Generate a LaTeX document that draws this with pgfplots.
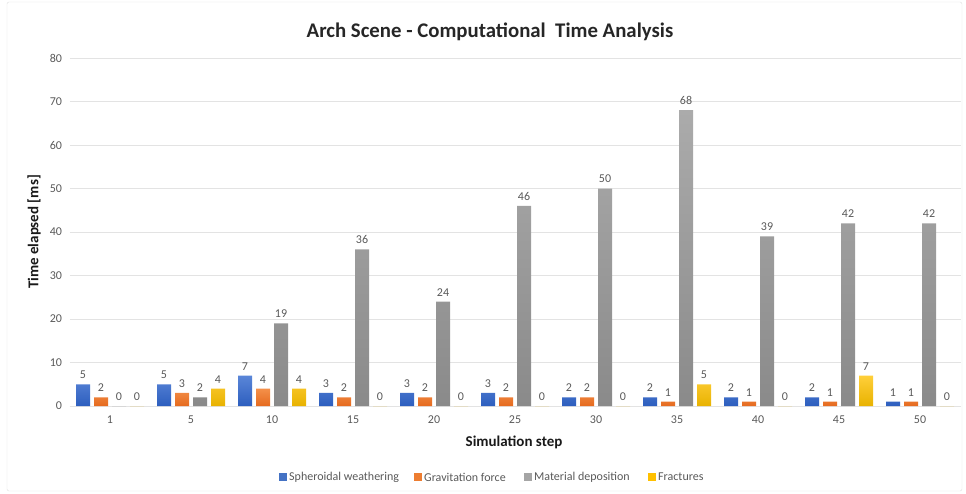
\documentclass[border=0pt]{standalone}
\usepackage{pgfplots}
\pgfplotsset{compat=1.18}
\usepackage{fontspec}
\setmainfont{Carlito}
\definecolor{tickc}{HTML}{595959}
\definecolor{gridc}{HTML}{E3E3E3}
\definecolor{bA}{HTML}{5A86D8}\definecolor{bB}{HTML}{2D5EBE}
\definecolor{oA}{HTML}{F4904A}\definecolor{oB}{HTML}{E56A1E}
\definecolor{gA}{HTML}{ABABAB}\definecolor{gB}{HTML}{8A8A8A}
\definecolor{yA}{HTML}{FFCF3A}\definecolor{yB}{HTML}{E8B200}
\definecolor{bL}{HTML}{4472C4}\definecolor{oL}{HTML}{ED7D31}
\definecolor{gL}{HTML}{A5A5A5}\definecolor{yL}{HTML}{FFC000}
\begin{document}
\begin{tikzpicture}[x=1pt,y=1pt]
\useasboundingbox (0,0) rectangle (966,493);
\draw[gray!25, rounded corners=2pt] (7,2) rectangle (962,491);
\begin{axis}[
  at={(69.5pt,87pt)}, anchor=south west,
  scale only axis, width=891pt, height=348pt,
  ybar=4pt, bar width=14pt,
  xmin=-0.5, xmax=10.5, ymin=0, ymax=80,
  xtick={0,...,10},
  xticklabels={1,5,10,15,20,25,30,35,40,45,50},
  ytick={0,10,...,80},
  ymajorgrids, grid style={gridc, line width=0.8pt},
  axis x line*=bottom, axis y line*=left,
  x axis line style={gridc, line width=0.8pt, -},
  y axis line style={draw=none},
  major tick length=0pt,
  tick label style={text=tickc, font=\fontsize{12}{14}\selectfont},
  /pgf/number format/assume math mode=true,
  xticklabel style={yshift=-6pt},
  yticklabel style={xshift=-4pt},
  nodes near coords,
  every node near coord/.append style={text=tickc, font=\fontsize{12}{14}\selectfont, yshift=2pt},
  clip=false,
]
\addplot[draw=none, top color=bA, bottom color=bB] coordinates {(0,5)(1,5)(2,7)(3,3)(4,3)(5,3)(6,2)(7,2)(8,2)(9,2)(10,1)};
\addplot[draw=none, top color=oA, bottom color=oB] coordinates {(0,2)(1,3)(2,4)(3,2)(4,2)(5,2)(6,2)(7,1)(8,1)(9,1)(10,1)};
\addplot[draw=none, top color=gA, bottom color=gB] coordinates {(0,0)(1,2)(2,19)(3,36)(4,24)(5,46)(6,50)(7,68)(8,39)(9,42)(10,42)};
\addplot[draw=none, top color=yA, bottom color=yB] coordinates {(0,0)(1,4)(2,4)(3,0)(4,0)(5,0)(6,0)(7,5)(8,0)(9,7)(10,0)};
\end{axis}
\node[font=\fontsize{20.8}{24}\bfseries\selectfont, text=black!85] at (490,461) {Arch Scene - Computational\ \ Time Analysis};
\node[font=\fontsize{15}{17}\bfseries\selectfont, rotate=90, text=black!90] at (34,261) {Time elapsed [ms]};
\node[font=\fontsize{15}{17}\bfseries\selectfont, text=black!90] at (514,51) {Simulation step};
\begin{scope}[font=\fontsize{12}{14}\selectfont, text=tickc]
\fill[bL] (279,12) rectangle (287,20); \node[anchor=west, inner sep=0] at (289,16) {Spheroidal weathering};
\fill[oL] (414,12) rectangle (422,20); \node[anchor=west, inner sep=0] at (424,16) {Gravitation force};
\fill[gL] (524,12) rectangle (532,20); \node[anchor=west, inner sep=0] at (534,16) {Material deposition};
\fill[yL] (648,12) rectangle (656,20); \node[anchor=west, inner sep=0] at (658,16) {Fractures};
\end{scope}
\end{tikzpicture}
\end{document}
